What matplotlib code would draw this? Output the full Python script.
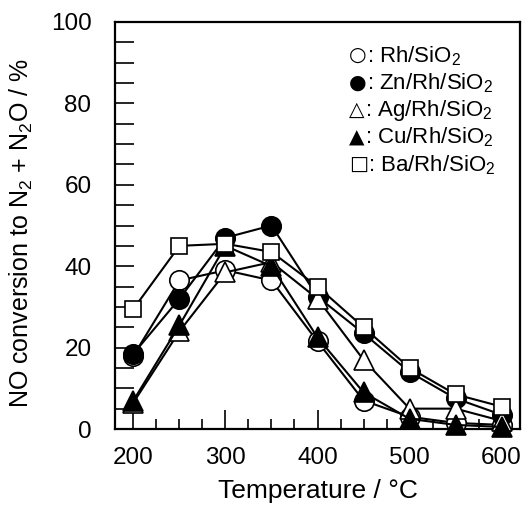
import matplotlib
matplotlib.use('Agg')
import matplotlib.pyplot as plt
from matplotlib.ticker import MultipleLocator

plt.rcParams['font.family'] = ['Liberation Sans', 'DejaVu Sans']
plt.rcParams['mathtext.fontset'] = 'custom'
plt.rcParams['mathtext.rm'] = 'Liberation Sans'
plt.rcParams['mathtext.it'] = 'Liberation Sans:italic'

temperature = [200, 250, 300, 350, 400, 450, 500, 550, 600]

rh = [18, 36.5, 39, 36.5, 21.5, 7, 3, 1.5, 1]
zn_rh = [18.5, 32, 47, 50, 32.5, 23.5, 14, 7.5, 3.5]
ag_rh = [6.5, 24, 38.5, 41, 32, 17, 5, 5, 2]
cu_rh = [7, 25.5, 45, 40, 22.5, 9, 2.5, 1, 0.5]
ba_rh = [29.5, 45, 45.5, 43.5, 35, 25, 15, 8.5, 5.5]

series = [
    (rh, 'o', 'white', 14),
    (zn_rh, 'o', 'black', 14),
    (ag_rh, '^', 'white', 15),
    (cu_rh, '^', 'black', 15),
    (ba_rh, 's', 'white', 11),
]
legend_symbols = ['\u25cb', '\u25cf', '\u25b3', '\u25b2', '\u25a1']
legend_labels = [': Rh/SiO$_2$', ': Zn/Rh/SiO$_2$', ': Ag/Rh/SiO$_2$',
                 ': Cu/Rh/SiO$_2$', ': Ba/Rh/SiO$_2$']

fig = plt.figure(figsize=(5.31, 5.09), dpi=100)
ax = fig.add_axes([115 / 531, 1 - 429 / 509, 405 / 531, 407 / 509])

for i, (vals, marker, face, ms) in enumerate(series):
    ax.plot(temperature, vals, color='black', lw=1.5, marker=marker,
            markerfacecolor=face, markeredgecolor='black', markeredgewidth=1.2,
            markersize=ms, zorder=3 + i, clip_on=False)

ax.set_xlim(180, 620)
ax.set_ylim(0, 100)
ax.xaxis.set_major_locator(MultipleLocator(100))
ax.xaxis.set_minor_locator(MultipleLocator(25))
ax.yaxis.set_major_locator(MultipleLocator(20))
ax.yaxis.set_minor_locator(MultipleLocator(5))
ax.tick_params(which='both', direction='in', labelsize=17.5, width=1.2)
ax.tick_params(axis='x', which='major', length=14, pad=13)
ax.tick_params(axis='x', which='minor', length=7)
ax.tick_params(axis='y', which='both', length=14, pad=17)
for s in ax.spines.values():
    s.set_linewidth(1.6)

ax.set_xlabel('Temperature / \u00b0C', fontsize=19, labelpad=7)
ax.set_ylabel('NO conversion to N$_2$ + N$_2$O / %', fontsize=18)
ax.yaxis.set_label_coords(-0.198, 0.48)

for k, (sym, lab) in enumerate(zip(legend_symbols, legend_labels)):
    t = ax.text(0.578, 0.917 - k * 0.067, sym, transform=ax.transAxes,
                family='DejaVu Sans', fontsize=14.5, va='center', ha='left')
    ax.annotate(lab, xy=(1, 0.5), xycoords=t, fontsize=16,
                va='center', ha='left')

fig.savefig('out.png', dpi=100, facecolor='white')
